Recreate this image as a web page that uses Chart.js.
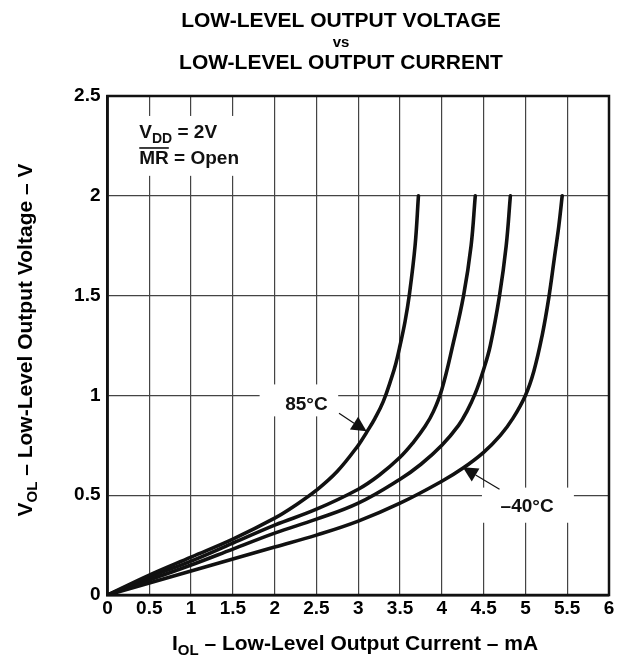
<!DOCTYPE html>
<html>
<head>
<meta charset="utf-8">
<script src="https://cdn.jsdelivr.net/npm/chart.js@4.4.1/dist/chart.umd.min.js"></script>
<style>
  html, body { margin: 0; padding: 0; background: #fff; }
  #wrap { width: 620px; height: 663px; }
</style>
</head>
<body>
<div id="wrap"><canvas id="volChart" width="620" height="663"></canvas></div>
<script>
// I_OL (mA) -> V_OL (V)
const curr85 = [0, 0.5, 1, 1.5, 2, 2.25, 2.5, 2.75, 3, 3.1, 3.2, 3.3, 3.4, 3.45, 3.5, 3.56, 3.61, 3.68, 3.72];
const volt85 = [0, 0.10, 0.19, 0.28, 0.385, 0.45, 0.525, 0.62, 0.75, 0.815, 0.885, 0.97, 1.09, 1.16, 1.25, 1.37, 1.5, 1.75, 2.0];

const currB = [0, 0.5, 1, 1.5, 2, 2.5, 3, 3.25, 3.5, 3.65, 3.8, 3.9, 4.0, 4.13, 4.26, 4.35, 4.40];
const voltB = [0, 0.09, 0.17, 0.26, 0.35, 0.43, 0.53, 0.60, 0.69, 0.76, 0.845, 0.92, 1.03, 1.25, 1.5, 1.75, 2.0];

const currC = [0, 0.5, 1, 1.5, 2, 2.5, 3, 3.5, 3.75, 4, 4.2, 4.3, 4.4, 4.5, 4.58, 4.69, 4.77, 4.82];
const voltC = [0, 0.075, 0.15, 0.23, 0.31, 0.38, 0.46, 0.58, 0.655, 0.75, 0.85, 0.92, 1.01, 1.13, 1.25, 1.5, 1.75, 2.0];

const currM40 = [0, 0.5, 1, 1.5, 2, 2.5, 3, 3.5, 4, 4.25, 4.5, 4.7, 4.85, 5.0, 5.1, 5.2, 5.28, 5.35, 5.4, 5.44];
const voltM40 = [0, 0.06, 0.12, 0.18, 0.24, 0.30, 0.37, 0.46, 0.57, 0.635, 0.715, 0.80, 0.885, 1.0, 1.12, 1.3, 1.49, 1.7, 1.85, 2.0];

const xTickLabels = ['0', '0.5', '1', '1.5', '2', '2.5', '3', '3.5', '4', '4.5', '5', '5.5', '6'];
const yTickLabels = ['0', '0.5', '1', '1.5', '2', '2.5'];

const FONT = '"Liberation Sans", Arial, Helvetica, sans-serif';
const INK = '#111';

function toPts(xs, ys) {
    return xs.map((x, i) => ({ x: x, y: ys[i] }));
}

// draws a run of text pieces (for subscripts / overline)
function richText(ctx, parts, x, y, align) {
    let total = 0;
    parts.forEach(p => {
        ctx.font = 'bold ' + p.size + 'px ' + FONT;
        p.w = ctx.measureText(p.t).width;
        total += p.w;
    });
    let cx = align === 'center' ? x - total / 2 : x;
    ctx.textAlign = 'left';
    ctx.textBaseline = 'alphabetic';
    parts.forEach(p => {
        ctx.font = 'bold ' + p.size + 'px ' + FONT;
        ctx.fillText(p.t, cx, y + (p.dy || 0));
        if (p.over) {
            ctx.fillRect(cx, y - p.size * 0.72 - 3, p.w, 1.6);
        }
        cx += p.w;
    });
}

function arrow(ctx, x0, y0, x1, y1) {
    const ang = Math.atan2(y1 - y0, x1 - x0);
    const len = 15, half = 7.5;
    const bx = x1 - Math.cos(ang) * len, by = y1 - Math.sin(ang) * len;
    ctx.strokeStyle = INK;
    ctx.lineWidth = 1.2;
    ctx.beginPath();
    ctx.moveTo(x0, y0);
    ctx.lineTo(bx, by);
    ctx.stroke();
    ctx.fillStyle = INK;
    ctx.beginPath();
    ctx.moveTo(x1, y1);
    ctx.lineTo(bx - Math.sin(ang) * half, by + Math.cos(ang) * half);
    ctx.lineTo(bx + Math.sin(ang) * half, by - Math.cos(ang) * half);
    ctx.closePath();
    ctx.fill();
}

const decor = {
    id: 'sheetDecor',
    beforeDatasetsDraw(chart) {
        const { ctx, scales: { x, y } } = chart;
        ctx.save();
        ctx.fillStyle = '#fff';
        // label boxes that break the grid
        [[0.02, 2.40, 1.76, 2.10], [1.82, 1.055, 2.76, 0.895], [4.48, 0.538, 5.58, 0.362]].forEach(b => {
            const l = x.getPixelForValue(b[0]), t = y.getPixelForValue(b[1]);
            ctx.fillRect(l, t, x.getPixelForValue(b[2]) - l, y.getPixelForValue(b[3]) - t);
        });
        ctx.restore();
    },
    afterDatasetsDraw(chart) {
        const { ctx, chartArea: ca, scales: { x, y } } = chart;
        ctx.save();
        ctx.fillStyle = INK;

        // frame
        ctx.strokeStyle = INK;
        ctx.lineWidth = 2.5;
        ctx.strokeRect(ca.left, ca.top, ca.right - ca.left, ca.bottom - ca.top);

        // conditions
        const lx = x.getPixelForValue(0.38);
        richText(ctx, [{ t: 'V', size: 19 }, { t: 'DD', size: 14, dy: 5 }, { t: ' = 2V', size: 19 }],
            lx, y.getPixelForValue(2.29), 'left');
        richText(ctx, [{ t: 'MR', size: 19, over: true }, { t: ' = Open', size: 19 }],
            lx, y.getPixelForValue(2.16), 'left');

        // temperature labels + arrows
        richText(ctx, [{ t: '85°C', size: 19 }], x.getPixelForValue(2.38), y.getPixelForValue(0.927), 'center');
        arrow(ctx, x.getPixelForValue(2.77), y.getPixelForValue(0.91), x.getPixelForValue(3.10), y.getPixelForValue(0.82));
        richText(ctx, [{ t: '–40°C', size: 19 }], x.getPixelForValue(5.02), y.getPixelForValue(0.416), 'center');
        arrow(ctx, x.getPixelForValue(4.69), y.getPixelForValue(0.53), x.getPixelForValue(4.25), y.getPixelForValue(0.64));

        // title
        ctx.fillStyle = '#000';
        richText(ctx, [{ t: 'LOW-LEVEL OUTPUT VOLTAGE', size: 21 }], 341, 27, 'center');
        richText(ctx, [{ t: 'vs', size: 15 }], 341, 47, 'center');
        richText(ctx, [{ t: 'LOW-LEVEL OUTPUT CURRENT', size: 21 }], 341, 69, 'center');

        // axis titles
        richText(ctx, [{ t: 'I', size: 21 }, { t: 'OL', size: 15, dy: 5 }, { t: ' – Low-Level Output Current – mA', size: 21 }],
            355, 650, 'center');
        ctx.translate(32, 340);
        ctx.rotate(-Math.PI / 2);
        richText(ctx, [{ t: 'V', size: 21 }, { t: 'OL', size: 15, dy: 5 }, { t: ' – Low-Level Output Voltage – V', size: 21 }],
            0, 0, 'center');
        ctx.restore();
    }
};

function series(xs, ys, name) {
    return {
        label: name,
        data: toPts(xs, ys),
        showLine: true,
        borderColor: INK,
        borderWidth: 3.6,
        pointRadius: 0,
        fill: false,
        tension: 0.4,
        borderCapStyle: 'round',
        borderJoinStyle: 'round'
    };
}

const canvas = document.getElementById('volChart');
new Chart(canvas.getContext('2d'), {
    type: 'scatter',
    data: {
        datasets: [
            series(curr85, volt85, '85°C'),
            series(currB, voltB, 'curve 2'),
            series(currC, voltC, 'curve 3'),
            series(currM40, voltM40, '–40°C')
        ]
    },
    options: {
        responsive: false,
        animation: false,
        devicePixelRatio: 1,
        layout: { padding: { top: 96, right: 11, left: 0, bottom: 0 } },
        plugins: {
            legend: { display: false },
            tooltip: { enabled: false },
            title: { display: false }
        },
        scales: {
            x: {
                type: 'linear',
                min: 0,
                max: 6,
                afterFit: s => { s.height = 68; },
                afterBuildTicks: s => { s.ticks = xTickLabels.map((l, i) => ({ value: i * 0.5 })); },
                ticks: {
                    padding: 2,
                    color: '#000',
                    font: { family: FONT, size: 19, weight: 'bold' },
                    callback: (v, i) => xTickLabels[i]
                },
                grid: { color: '#444', lineWidth: 1.2, drawTicks: false },
                border: { color: INK, width: 2.5 }
            },
            y: {
                type: 'linear',
                min: 0,
                max: 2.5,
                afterFit: s => { s.width = 107.5; },
                afterBuildTicks: s => { s.ticks = yTickLabels.map((l, i) => ({ value: i * 0.5 })); },
                ticks: {
                    padding: 7,
                    color: '#000',
                    font: { family: FONT, size: 19, weight: 'bold' },
                    callback: (v, i) => yTickLabels[i]
                },
                grid: { color: '#444', lineWidth: 1.2, drawTicks: false },
                border: { color: INK, width: 2.5 }
            }
        }
    },
    plugins: [decor]
});
</script>
</body>
</html>
